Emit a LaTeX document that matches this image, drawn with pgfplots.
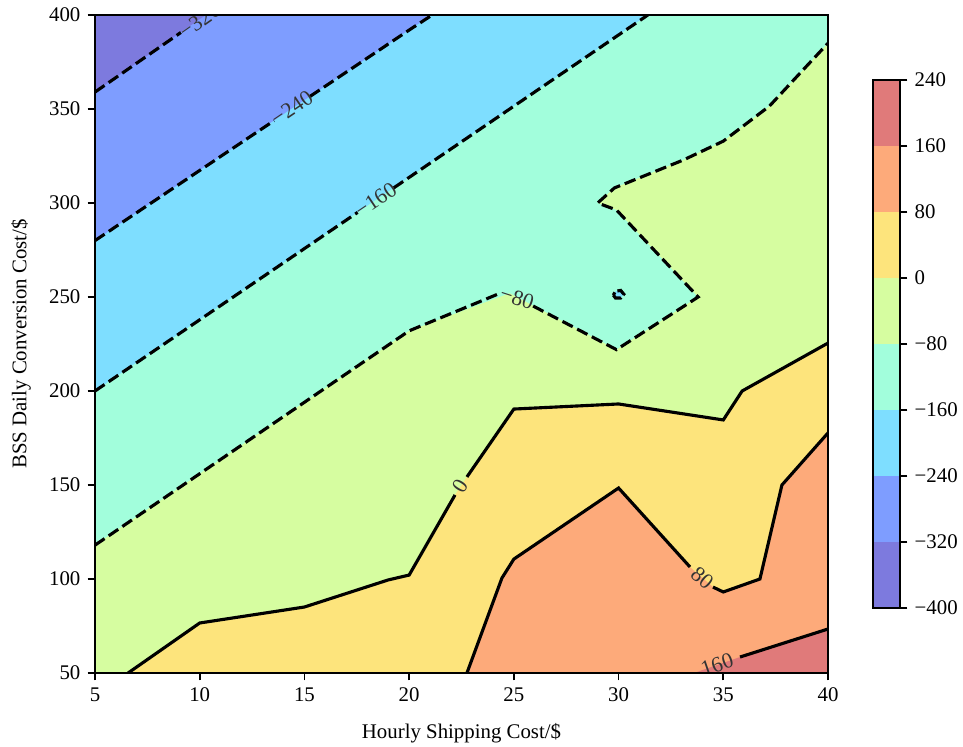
\documentclass[border=0pt]{standalone}
\usepackage{pgfplots}
\pgfplotsset{compat=1.18}
\usepackage{fontspec}
\setmainfont{Liberation Serif}
\definecolor{c1}{RGB}{125,122,222}
\definecolor{c2}{RGB}{126,157,255}
\definecolor{c3}{RGB}{126,222,255}
\definecolor{c4}{RGB}{162,254,220}
\definecolor{c5}{RGB}{214,253,160}
\definecolor{c6}{RGB}{253,228,124}
\definecolor{c7}{RGB}{253,170,122}
\definecolor{c8}{RGB}{224,122,122}
\tikzset{cl/.style={font=\fontsize{10.5}{12}\selectfont, text=black!80, inner sep=0pt}}
\pgfplotsset{neg/.style={black, line width=1.5pt, dash pattern=on 5.55pt off 2.4pt}, pos/.style={black, line width=1.5pt}}
\begin{document}
\begin{tikzpicture}
\useasboundingbox (-45.6pt,-35.04pt) rectangle (416.64pt,323.04pt);
\begin{axis}[
  scale only axis, width=351.84pt, height=315.84pt,
  xmin=5, xmax=40, ymin=50, ymax=400,
  xtick={5,10,...,40}, ytick={50,100,...,400},
  tick align=outside, xtick pos=bottom, ytick pos=left,
  major tick length=3.5pt,
  tick style={black, line width=0.8pt},
  axis line style={line width=0.8pt},
  /pgf/number format/assume math mode=true,
  tick label style={font=\fontsize{10}{12}\selectfont},
  label style={font=\fontsize{10}{12}\selectfont},
  xlabel={Hourly Shipping Cost/\$},
  ylabel={BSS Daily Conversion Cost/\$},
  xlabel style={at={(axis description cs:0.5,-0.1)}, anchor=base},
  ylabel style={at={(axis description cs:-0.101,0.5)}, anchor=center},
  axis on top,
]
% filled bands
\addplot[fill=c1, draw=none] coordinates {(5,50) (5,400) (40,400) (40,50)};
\addplot[fill=c2, draw=none] coordinates {(5,50) (5,359) (9.06,390.4) (10.3,400) (40,400) (40,50)};
\addplot[fill=c3, draw=none] coordinates {(5,50) (5,280) (20,392) (21.1,400) (40,400) (40,50)};
\addplot[fill=c4, draw=none] coordinates {(5,50) (5,200) (31.4,400) (40,400) (40,50)};
\addplot[fill=c5, draw=none] coordinates {(5,50) (5,118) (20,232) (24.8,252) (29.9,222) (33.8,250) (29.9,296.3) (29,300) (29.8,308) (33.1,322.9) (35,332.9) (37.2,351.5) (38.66,369) (40,385) (40,50)};
\addplot[fill=c6, draw=none] coordinates {(6.58,50) (10,76.6) (15,85.1) (19,99.5) (20,102.1) (22.19,144.7) (22.76,154.3) (25,190.4) (30,193.1) (35,184.6) (35.9,200) (40,225.5) (40,50)};
\addplot[fill=c7, draw=none] coordinates {(22.76,50) (24.43,100.5) (25,110.6) (30,148.4) (33.41,106.4) (34.51,95.7) (35,93.1) (36.75,100) (37.8,150) (40,177.7) (40,50)};
\addplot[fill=c8, draw=none] coordinates {(33.6,50) (35.8,58.5) (40,73.4) (40,50)};
\addplot[fill=c3, draw=none] coordinates {(29.75,251) (29.85,253) (30.1,253.5) (30.25,251.5) (30.1,249.5) (29.85,249.5)};
% contour lines
\addplot[neg] coordinates {(5,359) (9.1,390.7)};
\addplot[neg] coordinates {(5,280) (13.55,343.8)};
\addplot[neg] coordinates {(15.27,356.7) (20,392) (21.1,400)};
\addplot[neg] coordinates {(5,200) (17.54,295.0)};
\addplot[neg] coordinates {(19.26,308.0) (31.4,400)};
\addplot[neg] coordinates {(5,118) (20,232) (24.34,252)};
\addplot[neg] coordinates {(25.92,245.2) (29.9,222) (33.8,250) (29.9,296.3) (29,300) (29.8,308) (33.1,322.9) (35,332.9) (37.2,351.5) (38.66,369) (40,385)};
\addplot[black, line width=1.5pt, dash pattern=on 4.5pt off 1.5pt] coordinates {(29.75,251) (29.85,249.5) (30.1,249.5) (30.25,251.5) (30.1,253.5) (29.85,253) (29.75,251)};
\addplot[pos] coordinates {(6.58,50) (10,76.6) (15,85.1) (19,99.5) (20,102.1) (22.19,144.7)};
\addplot[pos] coordinates {(22.76,154.3) (25,190.4) (30,193.1) (35,184.6) (35.9,200) (40,225.5)};
\addplot[pos] coordinates {(22.76,50) (24.43,100.5) (25,110.6) (30,148.4) (33.41,106.4)};
\addplot[pos] coordinates {(34.51,95.7) (35,93.1) (36.75,100) (37.8,150) (40,177.7)};
\addplot[pos] coordinates {(35.8,58.5) (40,73.4)};
% contour labels
\node[cl, rotate=35] at (axis cs:10.0,397) {−320};
\node[cl, rotate=34] at (axis cs:14.4,350.5) {−240};
\node[cl, rotate=34] at (axis cs:18.4,301.5) {−160};
\node[cl, rotate=-18] at (axis cs:25.15,249.5) {−80};
\node[cl, rotate=58] at (axis cs:22.45,149.5) {0};
\node[cl, rotate=-40] at (axis cs:34.0,100.5) {80};
\node[cl, rotate=19] at (axis cs:34.7,54.5) {160};
\end{axis}
\begin{axis}[
  at={(373.44pt,31.2pt)}, anchor=south west,
  scale only axis, width=12.96pt, height=253.44pt,
  xmin=0, xmax=1, ymin=-400, ymax=240,
  xtick=\empty,
  ytick={-400,-320,...,240},
  yticklabels={−400,−320,−240,−160,−80,0,80,160,240},
  ytick pos=right, yticklabel pos=right,
  tick align=outside, major tick length=3.5pt,
  tick style={black, line width=0.8pt},
  axis line style={line width=0.8pt},
  tick label style={font=\fontsize{10}{12}\selectfont},
  axis on top,
]
\addplot[fill=c1, draw=none] coordinates {(0,-400) (1,-400) (1,-320) (0,-320)};
\addplot[fill=c2, draw=none] coordinates {(0,-320) (1,-320) (1,-240) (0,-240)};
\addplot[fill=c3, draw=none] coordinates {(0,-240) (1,-240) (1,-160) (0,-160)};
\addplot[fill=c4, draw=none] coordinates {(0,-160) (1,-160) (1,-80) (0,-80)};
\addplot[fill=c5, draw=none] coordinates {(0,-80) (1,-80) (1,0) (0,0)};
\addplot[fill=c6, draw=none] coordinates {(0,0) (1,0) (1,80) (0,80)};
\addplot[fill=c7, draw=none] coordinates {(0,80) (1,80) (1,160) (0,160)};
\addplot[fill=c8, draw=none] coordinates {(0,160) (1,160) (1,240) (0,240)};
\end{axis}
\end{tikzpicture}
\end{document}
